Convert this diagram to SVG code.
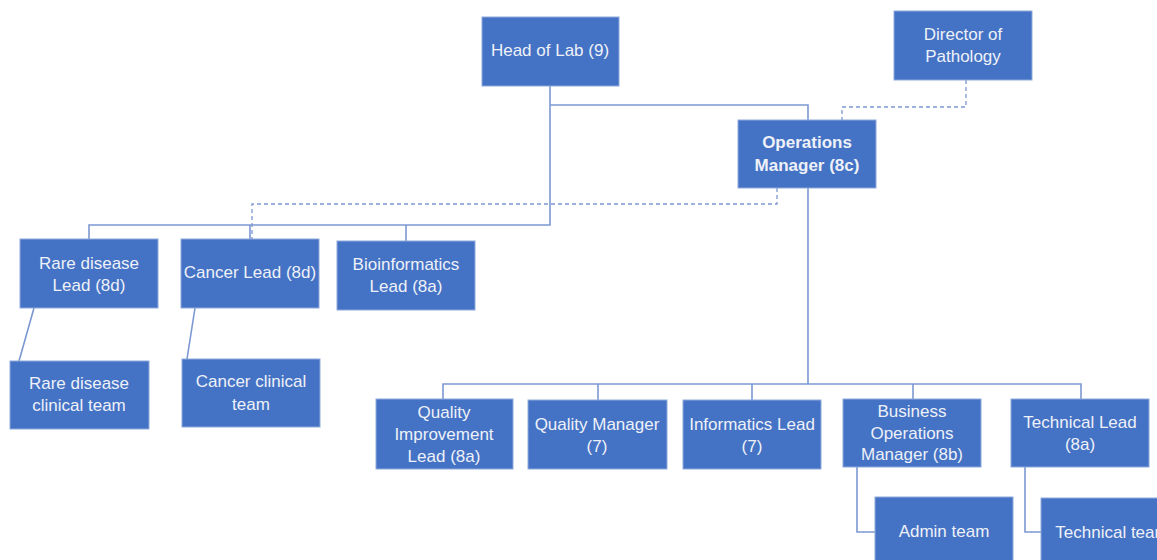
<svg xmlns="http://www.w3.org/2000/svg" width="1157" height="560" viewBox="0 0 1157 560">
<style>
.box{fill:#4472C4;stroke:#8FAADC;stroke-width:1}
.t{font-family:"Liberation Sans",Arial,sans-serif;font-size:17px;fill:#EEF1F8;text-anchor:middle;dominant-baseline:central}
.b{font-weight:bold}
.ln{fill:none;stroke:#7C98D2;stroke-width:1.6}
.dl{fill:none;stroke:#7C98D2;stroke-width:1.3;stroke-dasharray:4 3}
</style>
<rect width="1157" height="560" fill="#fff"/>
<g id="connectors">
<path class="ln" d="M550 86V225H89V239M250 225V239M406 225V241"/>
<path class="ln" d="M550 105H808V120"/>
<path class="dl" d="M777 188V204H252V239"/>
<path class="dl" d="M966 80V107H842V120"/>
<path class="ln" d="M808 188V384H443V399M598 384V400M752 384V400M808 384H1081V399M913 384V399"/>
<path class="ln" d="M34 308L19 361M195 308L187 359"/>
<path class="ln" d="M857 467V532H875M1025 467V532H1041"/>
</g>
<g id="head"><rect class="box" x="482" y="17" width="137" height="69"/><text class="t" x="550" y="50">Head of Lab (9)</text></g>
<g id="director"><rect class="box" x="894" y="11" width="138" height="69"/><text class="t" x="963" y="34">Director of</text><text class="t" x="963" y="56">Pathology</text></g>
<g id="ops"><rect class="box" x="738" y="120" width="138" height="68"/><text class="t b" x="807" y="142">Operations</text><text class="t b" x="807" y="165">Manager (8c)</text></g>
<g id="rare"><rect class="box" x="20" y="239" width="138" height="69"/><text class="t" x="89" y="263">Rare disease</text><text class="t" x="89" y="285">Lead (8d)</text></g>
<g id="cancer"><rect class="box" x="181" y="239" width="138" height="69"/><text class="t" x="250" y="272">Cancer Lead (8d)</text></g>
<g id="bioinf"><rect class="box" x="337" y="241" width="138" height="69"/><text class="t" x="406" y="264">Bioinformatics</text><text class="t" x="406" y="286">Lead (8a)</text></g>
<g id="rareteam"><rect class="box" x="10" y="361" width="139" height="68"/><text class="t" x="79" y="383">Rare disease</text><text class="t" x="79" y="405">clinical team</text></g>
<g id="cancerteam"><rect class="box" x="182" y="359" width="138" height="68"/><text class="t" x="251" y="381">Cancer clinical</text><text class="t" x="251" y="404">team</text></g>
<g id="qil"><rect class="box" x="376" y="399" width="137" height="70"/><text class="t" x="444" y="412">Quality</text><text class="t" x="444" y="434">Improvement</text><text class="t" x="444" y="456">Lead (8a)</text></g>
<g id="qm"><rect class="box" x="528" y="400" width="139" height="69"/><text class="t" x="597" y="424">Quality Manager</text><text class="t" x="597" y="446">(7)</text></g>
<g id="il"><rect class="box" x="683" y="400" width="138" height="69"/><text class="t" x="752" y="424">Informatics Lead</text><text class="t" x="752" y="446">(7)</text></g>
<g id="bom"><rect class="box" x="843" y="399" width="138" height="68"/><text class="t" x="912" y="411">Business</text><text class="t" x="912" y="433">Operations</text><text class="t" x="912" y="454">Manager (8b)</text></g>
<g id="tl"><rect class="box" x="1011" y="399" width="138" height="68"/><text class="t" x="1080" y="422">Technical Lead</text><text class="t" x="1080" y="444">(8a)</text></g>
<g id="admin"><rect class="box" x="875" y="497" width="138" height="70"/><text class="t" x="944" y="531">Admin team</text></g>
<g id="techteam"><rect class="box" x="1041" y="498" width="138" height="70"/><text class="t" x="1112" y="532">Technical team</text></g>
</svg>
